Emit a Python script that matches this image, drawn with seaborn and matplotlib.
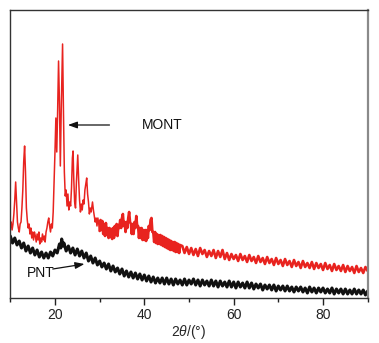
import numpy as np
import pandas as pd
import matplotlib
matplotlib.use("Agg")
import matplotlib.pyplot as plt
from matplotlib.ticker import MultipleLocator
import seaborn as sns

# ---------------- data ----------------
# MONT (red): dense part 10-48 deg
mont_x_a = [10.0, 10.2, 10.4, 10.6, 10.8, 11.0, 11.2, 11.4, 11.6, 11.8,
            12.0, 12.2, 12.4, 12.6, 12.8, 13.0, 13.2, 13.4, 13.6, 13.8,
            14.0, 14.2, 14.4, 14.6, 14.8, 15.0, 15.2, 15.4, 15.6, 15.8,
            16.0, 16.2, 16.4, 16.6, 16.8, 17.0, 17.2, 17.4, 17.6, 17.8,
            18.0, 18.2, 18.4, 18.6, 18.8, 19.0, 19.2, 19.4, 19.6, 19.8,
            20.0, 20.2, 20.4, 20.6, 20.8, 21.0, 21.2, 21.4, 21.7, 21.9,
            22.1, 22.3, 22.5, 22.7, 22.9, 23.1, 23.3, 23.5, 23.7, 23.9,
            24.05, 24.2, 24.4, 24.6, 24.8, 25.1, 25.3, 25.5, 25.7, 25.9,
            26.1, 26.3, 26.5, 26.7, 26.9, 27.1, 27.3, 27.5, 27.7, 27.9,
            28.1, 28.4, 28.6, 28.8, 29.0, 29.2, 29.4, 29.6, 29.8, 30.0,
            30.2, 30.4, 30.6, 30.8, 31.0, 31.2, 31.4, 31.6, 31.8, 32.0,
            32.2, 32.4, 32.6, 32.8, 33.0, 33.2, 33.4, 33.6, 33.8, 34.0,
            34.2, 34.4, 34.6, 34.8, 35.0, 35.2, 35.4, 35.6, 35.8, 36.0,
            36.2, 36.4, 36.6, 36.8, 37.0, 37.2, 37.4, 37.6, 37.8, 38.0,
            38.2, 38.4, 38.6, 38.8, 39.0, 39.2, 39.4, 39.6, 39.8, 40.0,
            40.2, 40.4, 40.6, 40.8, 41.0, 41.2, 41.4, 41.6, 41.8, 42.0,
            42.2, 42.4, 42.6, 42.8, 43.0, 43.2, 43.4, 43.6, 43.8, 44.0,
            44.2, 44.4, 44.6, 44.8, 45.0, 45.2, 45.4, 45.6, 45.8, 46.0,
            46.2, 46.4, 46.6, 46.8, 47.0, 47.2, 47.4, 47.6, 47.8, 48.0]
mont_y_a = [70, 76, 68, 74, 84, 98, 116, 96, 76, 70,
            66, 74, 76, 90, 108, 136, 152, 126, 90, 78,
            70, 74, 64, 70, 60, 66, 58, 66, 62, 56,
            64, 58, 66, 54, 60, 56, 64, 58, 62, 56,
            66, 70, 76, 80, 72, 66, 74, 70, 86, 116,
            146, 180, 146, 188, 237, 196, 132, 188, 254, 186,
            126, 102, 108, 92, 104, 88, 96, 92, 110, 140,
            147, 120, 96, 90, 116, 143, 118, 98, 86, 94,
            88, 98, 94, 108, 114, 120, 104, 96, 84, 90,
            86, 96, 88, 82, 76, 80, 72, 80, 74, 67,
            78, 68, 77, 64, 74, 62, 75, 63, 70, 60,
            70, 61, 69, 59, 70, 60, 72, 63, 74, 62,
            73, 70, 78, 70, 80, 84, 72, 76, 66, 76,
            70, 80, 86, 76, 74, 64, 74, 64, 76, 70,
            82, 72, 72, 60, 70, 60, 70, 58, 68, 58,
            68, 57, 68, 60, 72, 68, 78, 80, 66, 66,
            56, 66, 55, 64, 54, 63, 54, 63, 53, 62,
            52, 61, 51, 60, 50, 59, 49, 58, 48, 57,
            48, 56, 47, 56, 46, 55, 46, 54, 45, 53]
# MONT (red): 48.5-90 deg, every 0.5 deg
mont_y_b = [52, 45, 51, 44, 50, 43, 49, 42, 50, 44,
            48, 41, 47, 42, 48, 40, 47, 41, 48, 39,
            45, 38, 44, 39, 43, 37, 44, 38, 42, 36,
            43, 37, 41, 35, 42, 36, 40, 34, 41, 35,
            39, 33, 40, 34, 38, 32, 39, 33, 37, 31,
            38, 32, 36, 30, 37, 31, 35, 30, 36, 29,
            35, 30, 34, 28, 35, 29, 33, 27, 34, 28,
            32, 27, 33, 26, 32, 27, 31, 25, 32, 26,
            30, 25, 31, 27]
mont_x_b = list(np.arange(48.5, 90.01, 0.5))

# PNT (black): 10-90 deg
pnt_x = [10.0, 10.5, 11.0, 11.5, 12.0, 12.5, 13.0, 13.5, 14.0, 14.5,
         15.0, 15.5, 16.0, 16.5, 17.0, 17.5, 18.0, 18.5, 19.0, 19.5,
         20.0, 20.5, 21.0, 21.3, 21.5, 21.8, 22.0, 22.5, 23.0, 23.5,
         24.0, 24.5, 25.0, 25.5, 26.0, 26.5, 27.0, 27.5, 28.0, 28.5,
         29.0, 29.5, 30.0, 30.5, 31.0, 31.5, 32.0, 32.5, 33.0, 33.5,
         34.0, 34.5, 35.0, 35.5, 36.0, 36.5, 37.0, 37.5, 38.0, 38.5,
         39.0, 39.5, 40.0, 40.5, 41.0, 41.5, 42.0, 42.5, 43.0, 43.5,
         44.0, 44.5, 45.0, 45.5, 46.0, 46.5, 47.0, 47.5, 48.0, 48.5,
         49.0, 49.5, 50.0, 50.5, 51.0, 51.5, 52.0, 52.5, 53.0, 53.5,
         54.0, 54.5, 55.0, 55.5, 56.0, 56.5, 57.0, 57.5, 58.0, 58.5,
         59.0, 59.5, 60.0, 60.5, 61.0, 61.5, 62.0, 62.5, 63.0, 63.5,
         64.0, 64.5, 65.0, 65.5, 66.0, 66.5, 67.0, 67.5, 68.0, 68.5,
         69.0, 69.5, 70.0, 70.5, 71.0, 71.5, 72.0, 72.5, 73.0, 73.5,
         74.0, 74.5, 75.0, 75.5, 76.0, 76.5, 77.0, 77.5, 78.0, 78.5,
         79.0, 79.5, 80.0, 80.5, 81.0, 81.5, 82.0, 82.5, 83.0, 83.5,
         84.0, 84.5, 85.0, 85.5, 86.0, 86.5, 87.0, 87.5, 88.0, 88.5,
         89.0, 89.5, 90.0]
pnt_y = [62, 55, 60, 53, 57, 50, 55, 47, 52, 45,
         50, 43, 48, 41, 46, 40, 45, 40, 46, 42,
         48, 45, 54, 50, 59, 52, 55, 47, 52, 45,
         50, 43, 49, 42, 47, 40, 45, 37, 42, 35,
         40, 33, 37, 31, 35, 29, 34, 27, 32, 26,
         30, 24, 29, 22, 27, 21, 26, 20, 25, 19,
         24, 18, 23, 17, 22, 16, 21, 15, 20, 15,
         20, 14, 20, 14, 19, 13, 19, 14, 18, 13,
         19, 13, 18, 14, 19, 13, 18, 12, 18, 13,
         17, 12, 18, 12, 17, 11, 17, 12, 16, 11,
         17, 11, 16, 10, 16, 11, 15, 10, 16, 10,
         15, 9, 14, 10, 14, 8, 13, 9, 13, 8,
         13, 7, 12, 8, 12, 7, 12, 7, 11, 6,
         11, 7, 11, 6, 10, 5, 11, 6, 10, 5,
         10, 6, 10, 5, 9, 5, 10, 4, 9, 5,
         9, 4, 9, 4, 8, 4, 9, 4, 8, 4,
         8, 3, 7]

mont_x = mont_x_a + mont_x_b
mont_y = mont_y_a + mont_y_b

labels = ["MONT", "PNT"]
x_ticks = [20, 40, 60, 80]

# ---------------- plot ----------------
sns.set_style("ticks")
plt.rcParams["font.family"] = ["Liberation Sans", "DejaVu Sans"]
plt.rcParams["mathtext.fontset"] = "custom"
plt.rcParams["mathtext.it"] = "Liberation Sans:italic"
plt.rcParams["mathtext.rm"] = "Liberation Sans"

fig = plt.figure(figsize=(3.79, 3.43), dpi=100)
ax = fig.add_axes([10.3 / 379, 1 - 298 / 343, (367.7 - 10.3) / 379, 288 / 343])

RED = "#e8231f"
df_m = pd.DataFrame({"x": mont_x, "y": mont_y})
df_p = pd.DataFrame({"x": pnt_x, "y": pnt_y})
n_sharp = 100  # sharp-peak region (10-30 deg) drawn with a thin line
sns.lineplot(data=df_p, x="x", y="y", ax=ax, color="#111111", lw=2.2,
             sort=False, estimator=None)
sns.lineplot(data=df_m.iloc[:n_sharp], x="x", y="y", ax=ax, color=RED,
             lw=1.1, sort=False, estimator=None)
sns.lineplot(data=df_m.iloc[n_sharp - 1:], x="x", y="y", ax=ax, color=RED,
             lw=1.9, sort=False, estimator=None)

ax.set_xlim(10, 90)
ax.set_ylim(0, 288)
ax.set_xticks(x_ticks)
ax.xaxis.set_minor_locator(MultipleLocator(10))
ax.set_yticks([])
ax.tick_params(axis="x", which="major", direction="out", length=5, width=1,
               labelsize=10, pad=2, colors="#222222")
ax.tick_params(axis="x", which="minor", direction="out", length=3, width=1,
               colors="#222222")
ax.set_ylabel("")
ax.set_xlabel(r"2$\it{\theta}$/(°)", fontsize=10, labelpad=1)

for side in ["left", "top", "bottom"]:
    ax.spines[side].set_visible(True)
    ax.spines[side].set_color("#333333")
    ax.spines[side].set_linewidth(1.0)
ax.spines["right"].set_visible(True)
ax.spines["right"].set_color("#8a8a8a")
ax.spines["right"].set_linewidth(1.6)

arrow_kw = dict(arrowstyle="-|>,head_length=0.55,head_width=0.2",
                color="#111111", lw=0.9, shrinkA=0, shrinkB=0,
                mutation_scale=10)
ax.annotate("", xy=(22.9, 173), xytext=(32.2, 173), arrowprops=arrow_kw)
ax.text(39.4, 173, labels[0], fontsize=10, va="center", ha="left",
        color="#111111")
ax.annotate("", xy=(26.6, 34), xytext=(19.5, 29), arrowprops=arrow_kw)
ax.text(13.6, 25, labels[1], fontsize=10, va="center", ha="left",
        color="#111111")

fig.savefig("out.png", dpi=100)
